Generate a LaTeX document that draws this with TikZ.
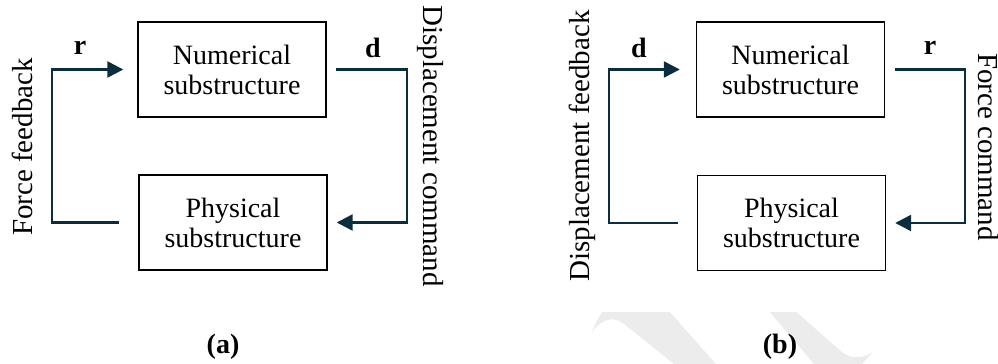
\documentclass[tikz,border=0pt]{standalone}
\usepackage{fontspec}
\setmainfont{Liberation Serif}
\usetikzlibrary{arrows.meta}
\definecolor{linkcol}{RGB}{12,45,62}
\definecolor{wmark}{RGB}{236,236,236}
\begin{document}
\begin{tikzpicture}[x=0.5pt,y=-0.5pt,
  font=\fontsize{14}{15}\selectfont,
  block/.style={draw=black,line width=0.7pt,minimum width=94pt,minimum height=47.5pt,align=center,inner sep=0pt},
  conn/.style={draw=linkcol,line width=1.2pt},
  arr/.style={conn,-{Triangle[length=8pt,width=8pt]}},
  sym/.style={font=\fontsize{14}{15}\selectfont\bfseries},
  side/.style={inner sep=0pt,font=\fontsize{14.5}{15}\selectfont},
  subcap/.style={font=\fontsize{14}{15}\selectfont\bfseries}]
\useasboundingbox (0,0) rectangle (998,364);

% faint background strokes in the lower right
\begin{scope}
  \clip (0,312) rectangle (998,364);
  \fill[wmark] (592,332) .. controls (596,322) and (600,314) .. (604,310)
    -- (668,310) -- (716,364) -- (674,364) -- (624,324)
    .. controls (614,316) and (602,318) .. cycle;
  \fill[wmark] (768,310) -- (794,310) -- (842,352)
    .. controls (852,360) and (864,358) .. (873,352)
    -- (862,364) -- (814,364) -- cycle;
\end{scope}

% (a) force feedback / displacement command
\node[block] (n1) at (232,69.5) {Numerical\\substructure};
\node[block] (p1) at (233,222.5) {Physical\\substructure};
\coordinate (fl) at (52,150);
\coordinate (fr) at (407,150);
\draw[arr] ([xshift=-9.5pt]p1.west) -| (fl) |- ([xshift=-7pt]n1.west);
\draw[arr] ([xshift=4.5pt]n1.east) -| (fr) |- ([xshift=4.5pt]p1.east);
\node[sym] (ra) at (80,48) {r};
\node[sym] (da) at (373,48) {d};
\node[side,rotate=90] (tfa) at (22,147) {Force feedback};
\node[side,rotate=-90] (tca) at (430,146) {Displacement command};
\node[subcap] (capa) at (223,347) {(a)};

% (b) displacement feedback / force command
\node[block] (n2) at (790.5,69.5) {Numerical\\substructure};
\node[block] (p2) at (791.5,223) {Physical\\substructure};
\coordinate (gl) at (609,150);
\coordinate (gr) at (965,150);
\draw[arr] ([xshift=-9.5pt]p2.west) -| (gl) |- ([xshift=-8pt]n2.west);
\draw[arr] ([xshift=5pt]n2.east) -| (gr) |- ([xshift=4.5pt]p2.east);
\node[sym] (db) at (639,48) {d};
\node[sym] (rb) at (930,48) {r};
\node[side,rotate=90] (tfb) at (582,146) {Displacement feedback};
\node[side,rotate=-90] (tcb) at (988,147) {Force command};
\node[subcap] (capb) at (780,347) {(b)};
\end{tikzpicture}
\end{document}
